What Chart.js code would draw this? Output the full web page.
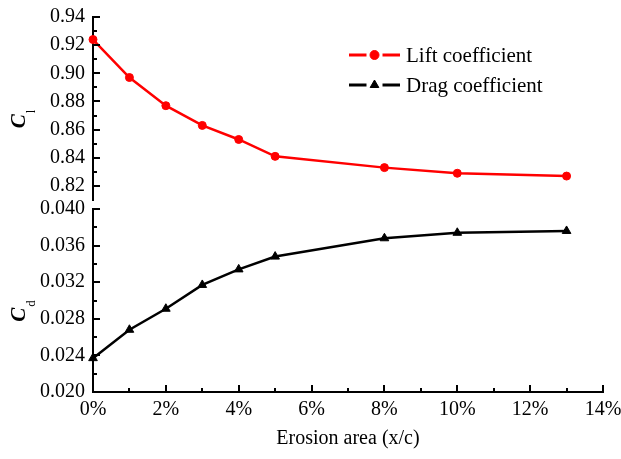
<!DOCTYPE html>
<html>
<head>
<meta charset="utf-8">
<script src="https://cdn.jsdelivr.net/npm/chart.js@4/dist/chart.umd.min.js"></script>
<style>
  html, body { margin: 0; padding: 0; background: #ffffff; }
  #wrap { position: relative; width: 621px; height: 459px; background: #ffffff; overflow: hidden; }
  #top { position: absolute; left: 0; top: 0; }
  #bot { position: absolute; left: 0; top: 190px; }
</style>
</head>
<body>
<div id="wrap">
  <canvas id="bot" width="621" height="269"></canvas>
  <canvas id="top" width="621" height="215"></canvas>
</div>
<script>
// ---- data ----
const erosionArea = [0, 1, 2, 3, 4, 5, 8, 10, 13];            // x/c in %
const liftCoefficient = [0.924, 0.897, 0.877, 0.863, 0.853, 0.841, 0.833, 0.829, 0.827];
const dragCoefficient = [0.0237, 0.0268, 0.0291, 0.0317, 0.0334, 0.0348, 0.0368, 0.0374, 0.0376];
const seriesNames = ['Lift coefficient', 'Drag coefficient'];
const xTicks = [0, 2, 4, 6, 8, 10, 12, 14];
const liftTicks = [0.82, 0.84, 0.86, 0.88, 0.90, 0.92, 0.94];
const dragTicks = [0.020, 0.024, 0.028, 0.032, 0.036, 0.040];
const xTitle = 'Erosion area (x/c)';

const FONT = 'Liberation Serif, Times New Roman, serif';
const RED = '#ff0000', BLACK = '#000000';

function minorsOf(arr) {
  const m = [];
  for (let i = 0; i < arr.length - 1; i++) m.push((arr[i] + arr[i + 1]) / 2);
  return m;
}

// inward tick marks drawn through the chart's own scales
const tickPlugin = {
  id: 'inTicks',
  afterDraw(chart, args, opts) {
    const ctx = chart.ctx, ca = chart.chartArea;
    ctx.save();
    ctx.strokeStyle = BLACK;
    ctx.lineWidth = 2;
    const ys = chart.scales.y;
    const drawY = (vals, len) => vals.forEach(v => {
      const p = Math.round(ys.getPixelForValue(v));
      ctx.beginPath(); ctx.moveTo(ca.left, p); ctx.lineTo(ca.left + len, p); ctx.stroke();
    });
    drawY(opts.yMajor, 7);
    drawY(minorsOf(opts.yMajor), 4);
    if (opts.xMajor) {
      const xs = chart.scales.x;
      const drawX = (vals, len) => vals.forEach(v => {
        const p = Math.round(xs.getPixelForValue(v));
        ctx.beginPath(); ctx.moveTo(p, ca.bottom); ctx.lineTo(p, ca.bottom - len); ctx.stroke();
      });
      drawX(opts.xMajor, 7);
      drawX(minorsOf(opts.xMajor), 4);
    }
    ctx.restore();
  }
};

// rotated y title with subscript  (C_l / C_d)
const yTitlePlugin = {
  id: 'yTitleSub',
  afterDraw(chart, args, opts) {
    const ctx = chart.ctx, ca = chart.chartArea;
    const cy = (ca.top + ca.bottom) / 2 + 11;
    const bx = 25;
    ctx.save();
    const mainFont = 'italic bold 21px ' + FONT;
    const subFont = '13px ' + FONT;
    ctx.font = mainFont; const w1 = ctx.measureText(opts.main).width;
    ctx.font = subFont; const w2 = ctx.measureText(opts.sub).width;
    const total = w1 + w2;
    ctx.translate(bx, cy + total / 2);
    ctx.rotate(-Math.PI / 2);
    ctx.fillStyle = BLACK;
    ctx.textBaseline = 'alphabetic';
    ctx.textAlign = 'left';
    ctx.font = mainFont; ctx.fillText(opts.main, 0, 0);
    ctx.font = subFont; ctx.fillText(opts.sub, w1 + 1, 10);
    ctx.restore();
  }
};

// legend drawn inside the upper panel
const legendPlugin = {
  id: 'innerLegend',
  afterDraw(chart, args, opts) {
    const ctx = chart.ctx, ca = chart.chartArea;
    const x0 = ca.left + 256, x1 = ca.left + 307, xm = (x0 + x1) / 2;
    opts.items.forEach((it, i) => {
      const y = ca.top + 38 + i * 30;
      ctx.save();
      ctx.strokeStyle = it.color; ctx.lineWidth = 3;
      ctx.beginPath(); ctx.moveTo(x0, y); ctx.lineTo(xm - 8, y); ctx.stroke();
      ctx.beginPath(); ctx.moveTo(xm + 8, y); ctx.lineTo(x1, y); ctx.stroke();
      ctx.fillStyle = it.color; ctx.strokeStyle = it.color; ctx.lineWidth = 1;
      Chart.helpers.drawPoint(ctx, { pointStyle: it.pointStyle, radius: it.radius, borderWidth: 1, rotation: 0 }, xm, y);
      ctx.fillStyle = BLACK;
      ctx.font = '21px ' + FONT;
      ctx.textAlign = 'left'; ctx.textBaseline = 'middle';
      ctx.fillText(it.text, x1 + 6, y + 1);
      ctx.restore();
    });
  }
};

Chart.defaults.font.family = FONT;
Chart.defaults.color = BLACK;

const xScaleBase = {
  type: 'linear', min: 0, max: 14,
  afterBuildTicks: s => { s.ticks = xTicks.map(v => ({ value: v })); },
  grid: { display: false, drawTicks: false },
  border: { display: true, color: BLACK, width: 2 },
  ticks: { font: { size: 20 }, color: BLACK, padding: 6, maxRotation: 0, callback: v => v + '%' }
};

function yScale(min, max, ticks, digits) {
  return {
    type: 'linear', min: min, max: max,
    afterBuildTicks: s => { s.ticks = ticks.map(v => ({ value: v })); },
    afterFit: s => { s.width = 93; s.paddingTop = 0; s.paddingBottom = 0; },
    grid: { display: false, drawTicks: false },
    border: { display: true, color: BLACK, width: 2 },
    ticks: { font: { size: 20 }, color: BLACK, padding: 8, callback: v => Number(v).toFixed(digits) }
  };
}

const liftData = erosionArea.map((x, i) => ({ x: x, y: liftCoefficient[i] }));
const dragData = erosionArea.map((x, i) => ({ x: x, y: dragCoefficient[i] }));

new Chart(document.getElementById('top'), {
  type: 'line',
  data: { datasets: [{
    label: seriesNames[0], data: liftData,
    borderColor: RED, backgroundColor: RED, borderWidth: 2.5,
    pointStyle: 'circle', pointRadius: 4, pointBorderWidth: 1, pointBackgroundColor: RED,
    tension: 0, clip: false
  }]},
  options: {
    responsive: false, animation: false, devicePixelRatio: 1,
    layout: { padding: { top: 17, bottom: 15, left: 0, right: 18 } },
    scales: {
      x: Object.assign({}, xScaleBase, { display: false,
        afterFit: s => { s.paddingLeft = 0; s.paddingRight = 0; } }),
      y: yScale(0.81, 0.94, liftTicks, 2)
    },
    plugins: {
      legend: { display: false }, tooltip: { enabled: false },
      inTicks: { yMajor: liftTicks },
      yTitleSub: { main: 'C', sub: 'l' },
      innerLegend: { items: [
        { text: seriesNames[0], color: RED, pointStyle: 'circle', radius: 4.5 },
        { text: seriesNames[1], color: BLACK, pointStyle: 'triangle', radius: 5 }
      ]}
    }
  },
  plugins: [tickPlugin, yTitlePlugin, legendPlugin]
});

new Chart(document.getElementById('bot'), {
  type: 'line',
  data: { datasets: [{
    label: seriesNames[1], data: dragData,
    borderColor: BLACK, backgroundColor: BLACK, borderWidth: 2.5,
    pointStyle: 'triangle', pointRadius: 5, pointBorderWidth: 1, pointBackgroundColor: BLACK,
    tension: 0, clip: false
  }]},
  options: {
    responsive: false, animation: false, devicePixelRatio: 1,
    layout: { padding: { top: 19, bottom: 0, left: 0, right: 18 } },
    scales: {
      x: Object.assign({}, xScaleBase, {
        afterFit: s => { s.height = 67; s.paddingLeft = 0; s.paddingRight = 0; },
        title: { display: true, text: xTitle, font: { size: 20 }, color: BLACK, padding: { top: 0, bottom: 8 } }
      }),
      y: yScale(0.020, 0.040, dragTicks, 3)
    },
    plugins: {
      legend: { display: false }, tooltip: { enabled: false },
      inTicks: { yMajor: dragTicks, xMajor: xTicks },
      yTitleSub: { main: 'C', sub: 'd' }
    }
  },
  plugins: [tickPlugin, yTitlePlugin]
});
</script>
</body>
</html>
